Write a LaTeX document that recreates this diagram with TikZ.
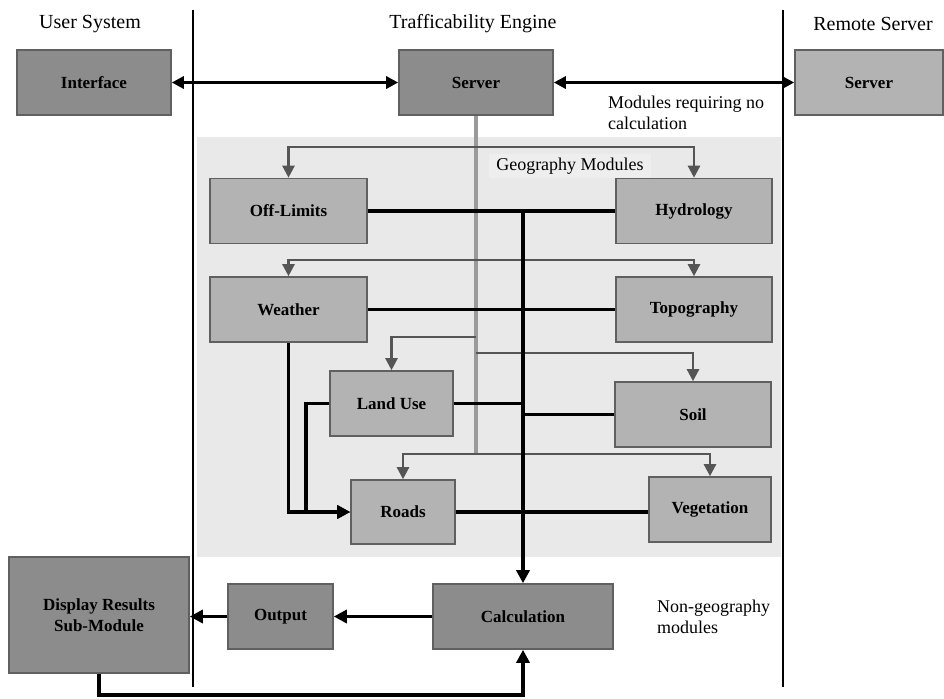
\documentclass[tikz,border=0pt]{standalone}
\usepackage{fontspec}
\setmainfont{Liberation Serif}
\usetikzlibrary{arrows.meta, positioning, calc}
\definecolor{darkbox}{HTML}{8C8C8C}
\definecolor{lightbox}{HTML}{B3B3B3}
\definecolor{boxline}{HTML}{606060}
\definecolor{panel}{HTML}{E9E9E9}
\definecolor{panelhi}{HTML}{EEEEEE}
\definecolor{trunkgray}{HTML}{9A9A9A}
\definecolor{feedgray}{HTML}{555555}
\tikzset{
    box/.style={draw=boxline, line width=0.8pt, inner sep=0pt, align=center,
        font=\fontsize{8.5}{10.5}\selectfont\bfseries},
    engine/.style={box, fill=darkbox},
    module/.style={box, fill=lightbox},
    link/.style={line width=1.8pt},
    flow/.style={link, -{Triangle[length=6.5pt, width=6.5pt]}},
    duplex/.style={link, {Triangle[length=6pt, width=6pt]}-{Triangle[length=6pt, width=6pt]}},
    trunk/.style={line width=1.6pt, draw=trunkgray},
    feed/.style={line width=1.2pt, draw=feedgray, -{Triangle[length=6pt, width=6pt]}},
    divider/.style={line width=1.1pt},
    heading/.style={font=\fontsize{10}{12}\selectfont},
    note/.style={font=\fontsize{9}{10.5}\selectfont, align=left}
}

\begin{document}
\begin{tikzpicture}[x=0.5pt, y=-0.5pt]
    \useasboundingbox (0,0) rectangle (944,698);
    \fill[panel] (197,137) rectangle (781,557);
    \draw[divider] (193,10) -- (193,687);
    \draw[divider] (783,10) -- (783,687);

    \node[heading] (usr) at (90,24) {User System};
    \node[heading] (eng) at (473,24) {Trafficability Engine};
    \node[heading] (rem) at (873,24) {Remote Server};

    \node[engine, minimum width=77pt, minimum height=32.5pt] (iface) at (94,82.5) {Interface};
    \node[engine, minimum width=77pt, minimum height=32.5pt] (server) at (476,82.5) {Server};
    \node[module, minimum width=74pt, minimum height=32.5pt] (remote) at (869,82.5) {Server};
    \node[note, anchor=west] (nocalc) at (601,112.5) {Modules requiring no\\calculation};

    \node[note, fill=panelhi, inner xsep=3.5pt, inner ysep=2pt] (geo) at (570,166) {Geography Modules};
    \node[module, minimum width=78.5pt, minimum height=32.5pt] (offl) at (288.5,211) {Off-Limits};
    \node[module, minimum width=78pt, minimum height=32.5pt] (hydro) at (694,211) {Hydrology};
    \node[module, minimum width=78.5pt, minimum height=32.5pt] (weather) at (288.5,309.5) {Weather};
    \node[module, minimum width=78pt, minimum height=32.5pt] (topo) at (694,309.5) {Topography};
    \node[module, minimum width=61.5pt, minimum height=32.5pt] (landuse) at (391.5,403.5) {Land Use};
    \node[module, minimum width=78pt, minimum height=32.5pt] (soil) at (693,414.5) {Soil};
    \node[module, minimum width=52pt, minimum height=32pt] (roads) at (403,512) {Roads};
    \node[module, minimum width=61pt, minimum height=32.5pt] (veg) at (710,509.5) {Vegetation};

    \node[engine, minimum width=90pt, minimum height=58pt] (disp) at (99,615) {Display Results\\Sub-Module};
    \node[engine, minimum width=52.5pt, minimum height=32.5pt] (output) at (280.5,616.5) {Output};
    \node[engine, minimum width=90pt, minimum height=32.5pt] (calc) at (523,616.5) {Calculation};
    \node[note, anchor=west] (nongeo) at (650,617) {Non-geography\\modules};

    \coordinate (fork1) at ($(server.south)+(0,31)$);
    \coordinate (fork2) at ($(server.south)+(0,144)$);
    \coordinate (fork3) at ($(server.south)+(0,221)$);
    \coordinate (fork4) at ($(server.south)+(0,237)$);
    \coordinate (fork5) at ($(server.south)+(0,338)$);
    \draw[trunk] (server.south) -- (fork5);
    \draw[feed] (fork1) -| (offl);
    \draw[feed] (fork1) -| (hydro);
    \draw[feed] (fork2) -| (weather);
    \draw[feed] (fork2) -| (topo);
    \draw[feed] (fork3) -| (landuse);
    \draw[feed] (fork4) -| (soil);
    \draw[feed] (fork5) -| (roads);
    \draw[feed] (fork5) -| (veg);

    \draw[duplex] (iface) -- (server);
    \draw[duplex] (server) -- (remote);

    \coordinate (bustop) at (offl.east -| calc.north);
    \draw[link] (offl) -- (hydro);
    \draw[link] (weather) -- (topo);
    \draw[link] (landuse.east) -- (landuse.east -| calc.north);
    \draw[link] (soil.west) -- (soil.west -| calc.north);
    \draw[link] (roads.east) -- (roads.east -| veg.west);
    \draw[flow] (weather.south) |- (roads.west);
    \draw[flow] (landuse.west) -- ++(-23,0) |- (roads.west);
    \draw[flow] (bustop) -- (calc.north);

    \coordinate (floor) at (0,695);
    \draw[flow] (calc) -- (output);
    \draw[flow] (output.west) -- (output.west -| disp.east);
    \draw[flow] (disp.south) -- (disp.south |- floor) -| (calc.south);
\end{tikzpicture}
\end{document}
